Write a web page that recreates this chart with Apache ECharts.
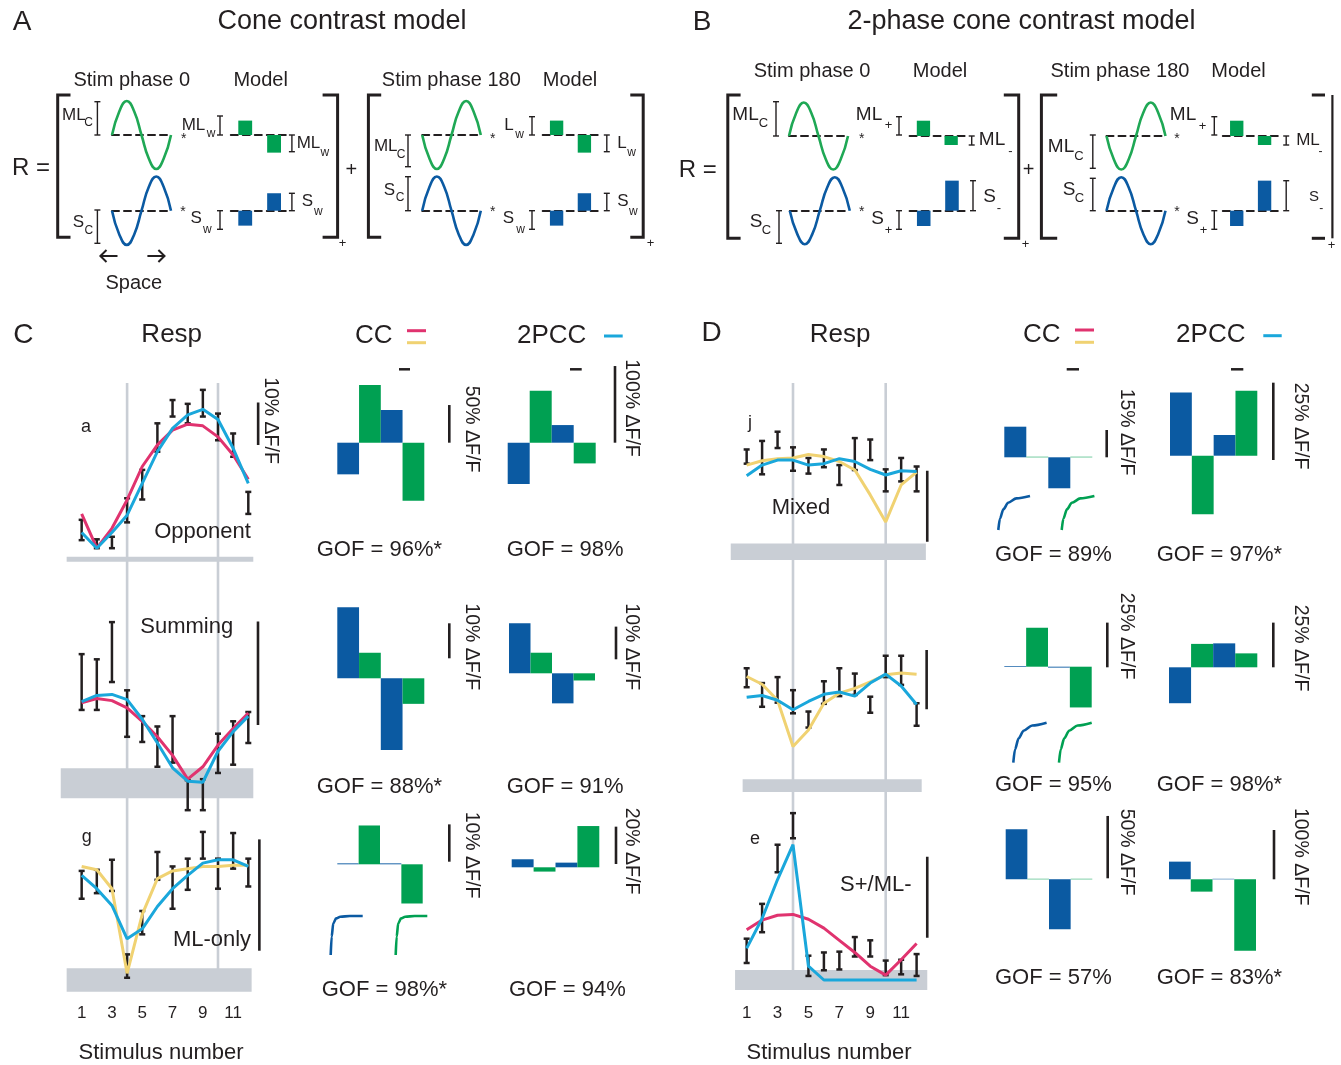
<!DOCTYPE html>
<html><head><meta charset="utf-8">
<script src="https://cdn.jsdelivr.net/npm/echarts@6/dist/echarts.min.js"></script>
<style>html,body{margin:0;padding:0;background:#fff}#c{width:1341px;height:1065px}</style>
</head><body><div id="c"></div><script>
// ---------------- DATA ----------------
const stimuli = [1,2,3,4,5,6,7,8,9,10,11,12];
const stimTickLabels = [1,3,5,7,9,11];
const guideStimuli = [4,10];

// Panel C, cell a (Opponent)  values in % dF/F above baseline
const aHigh = [9.3,4.7,5.3,14.4,21.1,32.1,37.6,36.7,40.0,34.4,29.7,15.9];
const aLow  = [4.5,2.6,2.6,8.7,14.1,25.4,33.7,32.1,33.7,28.1,24.2,10.7];
const aCC   = [10.7,2.6,7.3,14.0,21.9,27.0,30.5,31.9,31.5,28.9,24.6,18.9];
const aPCC  = [6.3,2.6,6.3,10.4,17.9,25.4,30.9,34.1,35.4,33.0,26.2,17.9];
// Panel C, Summing
const sHigh = [12.5,12.0,15.6,9.0,6.5,5.5,6.5,0.3,0.4,4.8,6.0,6.9];
const sLow  = [7.1,7.1,9.8,4.5,4.0,1.6,2.0,-2.6,-2.6,1.0,1.8,3.9];
const sCC   = [7.8,8.2,8.0,7.3,6.0,4.5,2.7,0.4,1.6,3.7,5.3,6.8];
const sPCC  = [7.9,8.5,8.6,8.1,6.2,3.9,1.5,0.2,0.1,3.1,5.0,6.5];
// Panel C, cell g (ML-only)
const gHigh = [9.8,9.9,10.8,2.3,6.2,11.5,10.2,10.9,13.3,10.9,13.2,10.9];
const gLow  = [7.3,7.8,8.0,0.2,4.1,9.0,6.4,8.1,10.9,8.2,10.0,8.4];
const gCC   = [10.2,9.9,8.2,0.6,5.9,9.1,9.8,10.0,10.2,10.2,10.3,10.3];
const gPCC  = [9.4,8.2,6.7,3.7,4.6,6.6,8.2,9.4,10.5,10.8,10.8,10.2];
// Panel D, cell j (Mixed)
const jHigh = [14.4,15.6,16.9,14.7,13.2,14.4,12.2,16.0,15.8,11.6,13.2,12.0];
const jLow  = [12.4,10.9,14.6,11.4,11.0,11.9,9.4,11.5,12.9,8.5,9.9,8.5];
const jCC   = [12.2,12.8,13.1,13.2,13.7,13.4,12.7,11.5,8.0,4.2,9.4,11.2];
const jPCC  = [10.7,12.2,12.9,12.9,12.2,12.4,13.1,12.7,11.6,10.8,11.4,11.3];
// Panel D, middle cell
const mHigh = [19.8,17.3,18.3,16.1,12.5,17.6,19.8,18.9,15.0,21.9,21.9,13.9];
const mLow  = [16.6,13.3,14.0,12.2,9.8,13.8,15.1,15.3,12.3,18.3,17.0,10.1];
const mCC   = [18.4,17.1,14.4,6.6,9.4,13.9,15.6,16.4,17.5,18.7,19.0,18.8];
const mPCC  = [14.9,15.2,14.4,12.8,14.2,15.4,15.8,15.1,17.3,18.8,16.8,13.7];
// Panel D, cell e (S+/ML-)
const eHigh = [5.1,9.4,16.7,20.6,3.0,3.4,3.5,5.3,4.9,2.4,2.5,3.2];
const eLow  = [2.1,5.9,13.3,17.5,0.5,1.2,1.3,2.9,2.9,0.6,0.7,0.5];
const eCC   = [6.2,7.4,8.0,8.1,7.5,6.4,4.9,3.4,1.7,0.6,2.5,4.5];
const ePCC  = [3.9,7.6,12.4,16.7,1.7,0,0,0,0,0,0,0];

// Model weight bars (% dF/F): S phase0, ML phase0, S phase180, ML phase180
const barCats = ['S 0°','ML 0°','S 180°','ML 180°'];
const ccA   = [-42.0,76.5,43.4,-77.0];   const pccA   = [-53.9,67.8,23.0,-27.0];
const ccSum = [20.3,7.3,-20.5,-7.3];     const pccSum = [15.3,6.3,-9.2,-2.2];
const ccG   = [0.25,10.4,0.25,-10.5];    const pccG   = [4.3,-2.3,2.5,22.1];
const ccJ   = [16.8,0.3,-17.0,0.3];      const pccJ   = [20.4,-18.9,6.7,21.0];
const ccMid = [0.4,21.8,-0.5,-22.8];     const pccMid = [-20.1,13.1,13.4,7.8];
const ccE   = [40.1,0.4,-40.1,0.4];      const pccE   = [35.8,-25.0,1.0,-144.6];
const gofC = ['GOF = 96%*','GOF = 98%','GOF = 88%*','GOF = 91%','GOF = 98%*','GOF = 94%'];
const gofD = ['GOF = 89%','GOF = 97%*','GOF = 95%','GOF = 98%*','GOF = 57%','GOF = 83%*'];

// Nonlinearity curve shapes (normalized)
const steepX = [0,0.03,0.08,0.17,0.3,0.6,1];
const steepY = [0,0.47,0.81,0.94,0.98,1,1];
const softX  = [0,0.05,0.16,0.31,0.57,1];
const softY  = [0,0.33,0.61,0.80,0.93,1];

// Schematic stimulus shapes and model weights
const sineX = [0,0.125,0.25,0.375,0.5,0.625,0.75,0.875,1];
const sineUp = [0,0.7,1,0.7,0,-0.7,-1,-0.7,0];
const sineDown = [0,-0.7,-1,-0.7,0,0.7,1,0.7,0];
const modelCats = ['phase +','phase -'];
const ccModelML = [0.8,-0.98];  const ccModelS = [-0.83,0.97];
const pccModelML = [0.85,-0.5]; const pccModelS = [-0.85,1.67];

// ---------------- STYLE ----------------
const FONT = '"Liberation Sans", Arial, Helvetica, sans-serif';
const INK = '#231f20', BLUE = '#0b5aa2', GREEN = '#00a052', SGREEN = '#1fa855';
const PINK = '#e0336f', YELLOW = '#f0d272', CYAN = '#1aa7db', GRAY = '#c9ced5';

const grids = [], xAxes = [], yAxes = [], series = [], graphic = [];
function hidden(extra){ return Object.assign({show:false, axisLine:{show:false}, axisTick:{show:false}, axisLabel:{show:false}, splitLine:{show:false}}, extra); }
function addGrid(rect, xa, ya){
  grids.push(Object.assign({containLabel:false}, rect));
  const i = grids.length - 1;
  xAxes.push(Object.assign(hidden({gridIndex:i}), xa));
  yAxes.push(Object.assign(hidden({gridIndex:i}), ya));
  return i;
}
function txt(x, y, text, size, o){
  o = o || {};
  graphic.push({type:'text', x:x, y:y, rotation:o.rot || 0, z:100, silent:true,
    style:{text:text, fill:o.color || INK, font:size + 'px ' + FONT,
      textAlign:o.align || 'center', textVerticalAlign:'middle', align:o.align || 'center', verticalAlign:'middle'}});
}
function seg(points, w, color){
  graphic.push({type:'polyline', z:100, silent:true, shape:{points:points}, style:{stroke:color || INK, lineWidth:w, fill:null}});
}
function ibar(x, y1, y2){ const c = 3; seg([[x-c,y1],[x+c,y1]],1.4); seg([[x,y1],[x,y2]],1.4); seg([[x-c,y2],[x+c,y2]],1.4); }
const dashed = {show:true, onZero:true, lineStyle:{color:INK, width:2, type:[7,5]}};

function sine(left, width, zeroY, amp, vals, color){
  const gi = addGrid({left:left, top:zeroY-amp, width:width, height:2*amp},
    {type:'value', min:0, max:1, show:true, axisLine:dashed},
    {type:'value', min:-1, max:1});
  series.push({type:'line', xAxisIndex:gi, yAxisIndex:gi, data:sineX.map((x,k)=>[x, vals[k]]),
    smooth:0.5, showSymbol:false, silent:true, clip:false, z:5, lineStyle:{color:color, width:2.6}});
}
function model(left, width, zeroY, vals, color){
  const ppu = 18;
  const gi = addGrid({left:left, top:zeroY-2*ppu, width:width, height:4*ppu},
    {type:'category', data:modelCats, show:true, axisLine:dashed},
    {type:'value', min:-2, max:2});
  series.push({type:'bar', xAxisIndex:gi, yAxisIndex:gi, data:vals, barWidth:'48%', silent:true, z:3, itemStyle:{color:color}});
}
function band(params, api){
  const p0 = api.coord([api.value(0), api.value(3)]), p1 = api.coord([api.value(1), api.value(2)]);
  return {type:'rect', shape:{x:p0[0], y:p0[1], width:p1[0]-p0[0], height:p1[1]-p0[1]}, style:{fill:GRAY}};
}
function guide(params, api){
  const x = api.value(0), p0 = api.coord([x, 0]), p1 = api.coord([x, 1]);
  return {type:'line', shape:{x1:p0[0], y1:p0[1], x2:p1[0], y2:p1[1]}, style:{stroke:GRAY, lineWidth:2.6}};
}
function errbar(params, api){
  const x = api.value(0), lo = api.coord([x, api.value(1)]), hi = api.coord([x, api.value(2)]);
  const c = 3, st = {stroke:INK, lineWidth:2.5};
  return {type:'group', children:[
    {type:'line', shape:{x1:lo[0], y1:lo[1], x2:hi[0], y2:hi[1]}, style:st},
    {type:'line', shape:{x1:lo[0]-c, y1:lo[1], x2:lo[0]+c, y2:lo[1]}, style:st},
    {type:'line', shape:{x1:hi[0]-c, y1:hi[1], x2:hi[0]+c, y2:hi[1]}, style:st}]};
}
function resp(c){
  const xMax = 13;
  const xa = {type:'value', min:0, max:xMax, interval:1};
  if (c.labels) Object.assign(xa, {show:true, axisLine:{show:false}, axisTick:{show:false}, splitLine:{show:false},
    axisLabel:{show:true, margin:c.margin, fontSize:17, color:INK, fontFamily:FONT, showMinLabel:true, showMaxLabel:true,
      formatter:v => stimTickLabels.indexOf(v) >= 0 ? String(v) : ''}});
  const gi = addGrid({left:c.left, top:c.zeroY - c.yMax*c.ppu, width:xMax*c.pps, height:(c.yMax-c.yMin)*c.ppu},
    xa, {type:'value', min:c.yMin, max:c.yMax});
  series.push({type:'custom', xAxisIndex:gi, yAxisIndex:gi, renderItem:band, data:[c.band], silent:true, z:1});
  series.push({type:'custom', xAxisIndex:gi, yAxisIndex:gi, renderItem:errbar, silent:true, z:3,
    data:stimuli.map((s,k)=>[s, c.low[k], c.high[k]])});
  c.fits.forEach((f, k) => series.push({type:'line', xAxisIndex:gi, yAxisIndex:gi, data:stimuli.map((s,i)=>[s, f[0][i]]),
    showSymbol:false, silent:true, clip:false, z:4+k, lineStyle:{color:f[1], width:3}}));
  series.push({type:'line', xAxisIndex:gi, yAxisIndex:gi, data:[[c.scale[0], c.scale[1]],[c.scale[0], c.scale[2]]],
    showSymbol:false, silent:true, clip:false, z:4, lineStyle:{color:INK, width:2.6}});
}
function bars(left, width, zeroY, ppu, vals, sc){
  const mn = Math.min(0, ...vals) - 1, mx = Math.max(0, ...vals) + 1;
  const gi = addGrid({left:left, top:zeroY - mx*ppu, width:width, height:(mx-mn)*ppu},
    {type:'category', data:barCats}, {type:'value', min:mn, max:mx});
  series.push({type:'bar', xAxisIndex:gi, yAxisIndex:gi, data:vals, barWidth:'100%', silent:true, z:3,
    itemStyle:{color:p => (p.dataIndex % 2 === 0 ? BLUE : GREEN)}});
  // scale bar: [x, bottomY, value%, label, labelX, labelY]
  seg([[sc[0], sc[1] - sc[2]*ppu],[sc[0], sc[1]]], 2.6);
  txt(sc[4], sc[5], sc[3], 19.5, {rot:-Math.PI/2});
}
function curve(left, top, w, h, xs, ys, color){
  const gi = addGrid({left:left, top:top, width:w, height:h}, {type:'value', min:0, max:1}, {type:'value', min:0, max:1});
  series.push({type:'line', xAxisIndex:gi, yAxisIndex:gi, data:xs.map((x,k)=>[x, ys[k]]), smooth:0.3, smoothMonotone:'x',
    showSymbol:false, silent:true, clip:false, z:4, lineStyle:{color:color, width:2.6}});
}

// ---------------- PANEL A ----------------
txt(22, 22, 'A', 28); txt(342, 22, 'Cone contrast model', 27);
txt(131.8, 80, 'Stim phase 0', 20); txt(260.7, 80, 'Model', 20);
txt(451.3, 80, 'Stim phase 180', 20); txt(570, 80, 'Model', 20);
txt(31, 168.3, 'R =', 24); txt(351.3, 170, '+', 20);
seg([[70.5,95],[57.7,95],[57.7,237.3],[70.5,237.3]], 3);
seg([[322.6,95],[337.6,95],[337.6,237.3],[322.6,237.3]], 3);
seg([[381.2,95],[368.4,95],[368.4,237.3],[381.2,237.3]], 3);
seg([[630.3,95],[643.2,95],[643.2,237.3],[630.3,237.3]], 3);
txt(342.5, 243.5, '+', 13); txt(650.5, 243.5, '+', 13);
sine(112, 59, 135, 34, sineUp, SGREEN);
sine(112, 59, 210.7, 34.2, sineDown, BLUE);
sine(422.2, 58.6, 135, 34, sineDown, SGREEN);
sine(422.2, 58.6, 210.7, 34.2, sineUp, BLUE);
model(230.8, 57.7, 135, ccModelML, GREEN);
model(230.8, 57.7, 210.7, ccModelS, BLUE);
model(542.7, 55.6, 135, ccModelML, GREEN);
model(542.7, 55.6, 210.7, ccModelS, BLUE);
// labels phase 0
txt(73.8, 115, 'ML', 17); txt(88.5, 122.5, 'C', 12); ibar(97.4, 101.7, 135);
txt(183.8, 139, '*', 14); txt(193.5, 125, 'ML', 17); txt(211, 134, 'w', 12); ibar(220, 116, 135);
ibar(291.9, 135, 151.7); txt(308.5, 143.3, 'ML', 17); txt(324.8, 152.5, 'w', 12);
txt(78.4, 222.7, 'S', 17); txt(88.9, 230.7, 'C', 12); ibar(97.4, 210, 243.3);
txt(183, 212, '*', 14); txt(196.2, 218.3, 'S', 17); txt(207.3, 229.3, 'w', 12); ibar(220, 210.7, 229.3);
ibar(291.9, 193.3, 210.7); txt(307.3, 201.7, 'S', 17); txt(318.4, 211.7, 'w', 12);
// labels phase 180
txt(385.7, 146.7, 'ML', 17); txt(401, 155, 'C', 12); ibar(408, 135, 166.7);
txt(492.7, 139, '*', 14); txt(509, 125, 'L', 17); txt(519.7, 135, 'w', 12); ibar(532, 116.7, 135);
ibar(606.8, 135, 151.7); txt(622, 143.3, 'L', 17); txt(631.6, 152.7, 'w', 12);
txt(389.3, 190, 'S', 17); txt(400, 197.3, 'C', 12); ibar(408, 176.7, 210.7);
txt(492.7, 212, '*', 14); txt(508.5, 218.3, 'S', 17); txt(520.5, 229.3, 'w', 12); ibar(532, 210.7, 229.3);
ibar(606.8, 193.3, 210.7); txt(623, 201.7, 'S', 17); txt(633.3, 211.7, 'w', 12);
// space arrows
seg([[117.5,256],[100.4,256]], 2); seg([[106.5,250],[100.4,256],[106.5,262]], 2);
seg([[147.4,256],[164.5,256]], 2); seg([[158.4,250],[164.5,256],[158.4,262]], 2);
txt(133.8, 283.3, 'Space', 20);

// ---------------- PANEL B ----------------
txt(702, 22, 'B', 28); txt(1021.5, 22, '2-phase cone contrast model', 27);
txt(812, 71.7, 'Stim phase 0', 20); txt(940, 71.7, 'Model', 20);
txt(1120, 71.7, 'Stim phase 180', 20); txt(1238.5, 71.7, 'Model', 20);
txt(697.8, 170, 'R =', 24); txt(1028.6, 170, '+', 20);
seg([[740.6,95],[727.8,95],[727.8,238.3],[740.6,238.3]], 3);
seg([[1003.8,95],[1018.7,95],[1018.7,238.3],[1003.8,238.3]], 3);
seg([[1057.2,95],[1041.4,95],[1041.4,238.3],[1057.2,238.3]], 3);
seg([[1311.8,95],[1325,95]], 3); seg([[1311.8,238.3],[1325,238.3]], 3); seg([[1332.4,95],[1332.4,238.3]], 2.2);
txt(1025.5, 244, '+', 13); txt(1331.5, 245, '+', 13);
sine(789, 59, 136, 33.5, sineUp, SGREEN);
sine(789.8, 60, 210.7, 33.5, sineDown, BLUE);
sine(1106.5, 59, 136, 33.5, sineDown, SGREEN);
sine(1106.5, 59, 210.7, 33.5, sineUp, BLUE);
model(909.6, 55.4, 136, pccModelML, GREEN);
model(909.6, 56.5, 210.7, pccModelS, BLUE);
model(1222.8, 55.7, 136, pccModelML, GREEN);
model(1222.8, 55.7, 210.7, pccModelS, BLUE);
txt(745.5, 115, 'ML', 19); txt(763.5, 123.3, 'C', 13); ibar(776, 101.7, 136);
txt(861.7, 139, '*', 14); txt(869, 115, 'ML', 19); txt(888.5, 125, '+', 13); ibar(899, 116.7, 135);
ibar(971.7, 136, 145); txt(992, 140, 'ML', 19); txt(1010.5, 151.7, '-', 13);
txt(756, 221.7, 'S', 19); txt(766.5, 230, 'C', 13); ibar(779, 210.7, 243.3);
txt(861.7, 212, '*', 14); txt(877.5, 218.3, 'S', 19); txt(888.5, 230, '+', 13); ibar(899, 210.7, 229.3);
ibar(973, 180.7, 210.7); txt(989.5, 196.7, 'S', 19); txt(999, 208.3, '-', 13);
txt(1061, 146.7, 'ML', 19); txt(1079, 156, 'C', 13); ibar(1092.8, 135, 168.3);
txt(1177, 139, '*', 14); txt(1183, 115, 'ML', 19); txt(1202.5, 126, '+', 13); ibar(1214.3, 116.7, 135);
ibar(1286.2, 136, 145); txt(1308, 140, 'ML', 17); txt(1320.5, 151.7, '-', 12);
txt(1069, 190, 'S', 19); txt(1079.5, 198.3, 'C', 13); ibar(1092.8, 178.3, 210.7);
txt(1177, 212, '*', 14); txt(1192.5, 218.3, 'S', 19); txt(1203.5, 230, '+', 13); ibar(1214.3, 210.7, 229.3);
ibar(1286.2, 180.7, 210.7); txt(1314, 196.7, 'S', 15); txt(1321.3, 208.3, '-', 12);

// ---------------- PANELS C / D: guide lines ----------------
[[66.5, 15.15],[731.2, 15.45]].forEach(g => {
  const gi = addGrid({left:g[0], top:383, width:13*g[1], height:592}, {type:'value', min:0, max:13}, {type:'value', min:0, max:1});
  series.push({type:'custom', xAxisIndex:gi, yAxisIndex:gi, renderItem:guide, data:guideStimuli.map(v => [v]), silent:true, z:0});
});

// ---------------- Response plots ----------------
resp({left:66.5, pps:15.15, zeroY:559.2, ppu:4.233, yMin:-2, yMax:44, band:[0.01,12.33,-0.6,0.6],
  low:aLow, high:aHigh, fits:[[aCC,PINK],[aPCC,CYAN]], scale:[12.65,27,37]});
resp({left:66.5, pps:15.15, zeroY:783.3, ppu:10.333, yMin:-3, yMax:16, band:[-0.38,12.33,-1.45,1.45],
  low:sLow, high:sHigh, fits:[[sCC,PINK],[sPCC,CYAN]], scale:[12.64,5.65,15.65]});
resp({left:66.5, pps:15.15, zeroY:980, ppu:11.133, yMin:-1.5, yMax:13.8, band:[0.01,12.22,-1.05,1.05],
  low:gLow, high:gHigh, fits:[[gCC,YELLOW],[gPCC,CYAN]], scale:[12.73,2.63,12.63], labels:true, margin:8});
resp({left:731.2, pps:15.45, zeroY:551.7, ppu:7.1, yMin:-2, yMax:19, band:[-0.03,12.6,-1.17,1.17],
  low:jLow, high:jHigh, fits:[[jCC,YELLOW],[jPCC,CYAN]], scale:[12.69,1.41,11.41]});
resp({left:731.2, pps:15.45, zeroY:785.7, ppu:5.933, yMin:-2, yMax:24, band:[0.74,12.33,-1.07,1.07],
  low:mLow, high:mHigh, fits:[[mCC,YELLOW],[mPCC,CYAN]], scale:[12.65,12.87,22.87]});
resp({left:731.2, pps:15.45, zeroY:980, ppu:8.1, yMin:-1.8, yMax:21.5, band:[0.25,12.69,-1.23,1.23],
  low:eLow, high:eHigh, fits:[[eCC,PINK],[ePCC,CYAN]], scale:[12.69,5.23,15.23], labels:true, margin:10});

txt(23.3, 335, 'C', 28); txt(171.7, 335, 'Resp', 26);
txt(711.7, 333, 'D', 28); txt(840, 335, 'Resp', 26);
txt(86, 427, 'a', 18); txt(86.7, 836.7, 'g', 18); txt(750, 423, 'j', 18); txt(755, 839, 'e', 18);
txt(202.5, 531.7, 'Opponent', 22); txt(186.7, 626.7, 'Summing', 22); txt(212, 940, 'ML-only', 22);
txt(801, 508.3, 'Mixed', 22); txt(875.8, 885, 'S+/ML-', 22);
txt(270, 420.5, '10% \u0394F/F', 19.5, {rot:-Math.PI/2});
txt(161, 1053.3, 'Stimulus number', 22); txt(829, 1053.3, 'Stimulus number', 22);

// legends
txt(373.8, 336, 'CC', 26); seg([[407,330.7],[426,330.7]], 3, PINK); seg([[407,342.7],[426,342.7]], 3, YELLOW);
txt(551.7, 336, '2PCC', 26); seg([[604,336],[622.7,336]], 3, CYAN);
seg([[399,369.3],[410,369.3]], 2.5); seg([[570,369.3],[581.7,369.3]], 2.5);
txt(1041.7, 335, 'CC', 26); seg([[1075,330],[1094,330]], 3, PINK); seg([[1075,342.3],[1094,342.3]], 3, YELLOW);
txt(1210.8, 335, '2PCC', 26); seg([[1263.3,335.7],[1281.7,335.7]], 3, CYAN);
seg([[1066.7,369.3],[1079,369.3]], 2.5); seg([[1231,369.3],[1243.3,369.3]], 2.5);

// ---------------- Bar charts ----------------
bars(337.3, 87, 442.7, 0.7533, ccA,   [449.3, 442.7, 50, '50% \u0394F/F', 471.7, 429]);
bars(507.7, 88, 442.7, 0.7667, pccA,  [615, 442.7, 100, '100% \u0394F/F', 631.7, 408]);
bars(337.3, 87, 678.3, 3.5,    ccSum, [449.3, 658.3, 10, '10% \u0394F/F', 471.7, 646.7]);
bars(509, 86, 673.3, 3.267,    pccSum,[616, 659.3, 10, '10% \u0394F/F', 631.7, 646.7]);
bars(337.3, 85.4, 864.3, 3.733, ccG,  [449.3, 861.7, 10, '10% \u0394F/F', 471.7, 855]);
bars(511.7, 87.6, 867.3, 1.867, pccG, [616, 864, 20, '20% \u0394F/F', 631.7, 851]);
bars(1004.3, 88, 457.3, 1.822, ccJ,   [1106.7, 457.3, 15, '15% \u0394F/F', 1126.7, 432]);
bars(1170, 87.3, 455.7, 3.093, pccJ,  [1273.3, 460, 25, '25% \u0394F/F', 1300, 426]);
bars(1004.3, 87.4, 666.7, 1.787, ccMid,[1107.3, 667.3, 25, '25% \u0394F/F', 1126.7, 636]);
bars(1169, 88.3, 667.3, 1.787, pccMid,[1273.3, 667.3, 25, '25% \u0394F/F', 1300, 648]);
bars(1005.7, 86.6, 879.3, 1.247, ccE, [1107.7, 878.3, 50, '50% \u0394F/F', 1126.7, 852]);
bars(1169, 87, 879.3, 0.4933, pccE,   [1274, 879.3, 100, '100% \u0394F/F', 1300, 856.7]);

curve(330.7, 916, 32, 39, steepX, steepY, BLUE);
curve(395.7, 916, 31.6, 39, steepX, steepY, GREEN);
curve(998.3, 496, 31.7, 34, softX, softY, BLUE);
curve(1061.7, 496, 32.7, 34, softX, softY, GREEN);
curve(1013.3, 722.7, 33.3, 40, softX, softY, BLUE);
curve(1059, 722.7, 32.7, 40, softX, softY, GREEN);

[[316.7,550],[506.7,550],[316.7,786.7],[506.7,786.7],[321.7,990],[509,990]].forEach((p,k) => txt(p[0], p[1], gofC[k], 22, {align:'left'}));
[[995,555],[1156.7,555],[995,785],[1156.7,785],[995,978.3],[1156.7,978]].forEach((p,k) => txt(p[0], p[1], gofD[k], 22, {align:'left'}));

const chart = echarts.init(document.getElementById('c'), null, {renderer:'canvas'});
chart.setOption({animation:false, backgroundColor:'#fff', grid:grids, xAxis:xAxes, yAxis:yAxes, series:series, graphic:graphic});
</script></body></html>
